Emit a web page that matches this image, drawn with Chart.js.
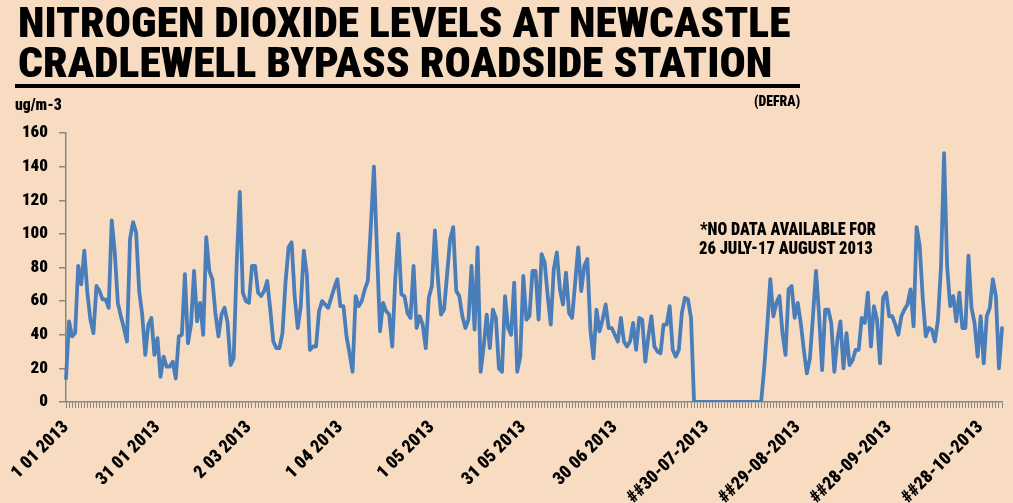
<!DOCTYPE html>
<html>
<head>
<meta charset="utf-8">
<script src="https://cdn.jsdelivr.net/npm/chart.js@4.4.1/dist/chart.umd.min.js"></script>
<style>
  html, body { margin: 0; padding: 0; }
  body {
    width: 1013px; height: 503px; position: relative; overflow: hidden;
    background: #f8dcc2;
    font-family: "Roboto Condensed", "DejaVu Sans Condensed", "Liberation Sans", sans-serif;
  }
  #chart { position: absolute; left: 0; top: 0; }
  .txt {
    position: absolute; white-space: nowrap; font-weight: 900; color: #000;
    line-height: 1; transform-origin: 0 0;
  }
  #rule { position: absolute; left: 15px; top: 84px; width: 785px; height: 4px; background: #000; }
</style>
</head>
<body>
<canvas id="chart" width="1013" height="503"></canvas>

<div class="txt" data-w="772" style="left:18px; top:2px; font-size:42px;">NITROGEN DIOXIDE LEVELS AT NEWCASTLE</div>
<div class="txt" data-w="754" style="left:18px; top:42px; font-size:42px;">CRADLEWELL BYPASS ROADSIDE STATION</div>
<div id="rule"></div>
<div class="txt" data-w="47" style="left:15px; top:97px; font-size:16px;">ug/m-3</div>
<div class="txt" data-w="46" style="left:754px; top:94px; font-size:15px;">(DEFRA)</div>
<div class="txt" data-w="176" style="left:700px; top:219px; font-size:19px;">*NO DATA AVAILABLE FOR</div>
<div class="txt" data-w="174" style="left:699px; top:238px; font-size:19px;">26 JULY-17 AUGUST 2013</div>

<script>
// daily NO2 readings, 1 Jan 2013 onwards (zeros = no data 26 Jul - 17 Aug)
const no2Values = [
  14, 48, 39, 41, 81, 70, 90, 65, 49, 41, 69, 66, 61, 61, 56, 108, 89, 59, 51, 44,
  36, 97, 107, 101, 66, 52, 28, 46, 50, 28, 38, 15, 27, 21, 21, 24, 14, 39, 40, 76,
  35, 46, 78, 48, 59, 40, 98, 78, 73, 53, 39, 52, 56, 47, 22, 26, 83, 125, 65, 60,
  59, 81, 81, 65, 63, 66, 72, 55, 36, 32, 32, 41, 71, 92, 95, 63, 44, 57, 90, 76,
  31, 33, 33, 54, 60, 58, 56, 62, 68, 73, 57, 57, 39, 29, 18, 63, 57, 60, 67, 72,
  105, 140, 90, 42, 59, 54, 52, 33, 73, 100, 64, 63, 53, 50, 81, 44, 51, 46, 32, 62,
  69, 102, 73, 52, 55, 76, 97, 104, 66, 63, 51, 44, 49, 81, 43, 92, 18, 33, 52, 32,
  55, 50, 20, 18, 63, 44, 40, 71, 18, 27, 75, 49, 51, 78, 78, 49, 88, 83, 63, 46,
  79, 89, 67, 58, 77, 53, 50, 71, 92, 66, 81, 85, 43, 26, 55, 42, 49, 58, 44, 44,
  40, 36, 50, 36, 33, 36, 47, 31, 50, 49, 24, 39, 51, 33, 30, 29, 46, 46, 57, 31,
  27, 31, 53, 62, 61, 50, 0, 0, 0, 0, 0, 0, 0, 0, 0, 0, 0, 0, 0, 0,
  0, 0, 0, 0, 0, 0, 0, 0, 0, 20, 45, 73, 51, 59, 63, 41, 28, 67, 69, 50,
  59, 47, 31, 17, 26, 51, 78, 52, 19, 55, 55, 47, 18, 37, 48, 20, 41, 22, 25, 31,
  31, 50, 47, 65, 33, 57, 49, 23, 62, 65, 51, 51, 46, 40, 51, 55, 58, 67, 45, 104,
  93, 62, 39, 44, 43, 36, 49, 81, 148, 81, 57, 63, 48, 65, 44, 44, 87, 56, 47, 27,
  51, 23, 51, 56, 73, 63, 20, 44
];

const tickLabels = [
  "1 01 2013", "31 01 2013", "2 03 2013", "1 04 2013", "1 05 2013", "31 05 2013",
  "30 06 2013", "##30-07-2013", "##29-08-2013", "##28-09-2013", "##28-10-2013"
];
const tickStep = 30;

const yTicks = { min: 0, max: 160, step: 20 };

const dayLabels = no2Values.map((_, i) => {
  const d = new Date(2013, 0, 1 + i);
  return `${d.getDate()}/${d.getMonth() + 1}/2013`;
});

const fontFamily = '"Roboto Condensed", "DejaVu Sans Condensed", "Liberation Sans", sans-serif';
const axisGrey = "#868686";

function fitTexts() {
  document.querySelectorAll(".txt[data-w]").forEach((el) => {
    el.style.transform = "";
    const w = el.offsetWidth;
    if (w) el.style.transform = `scaleX(${Number(el.dataset.w) / w})`;
  });
}

new Chart(document.querySelector("#chart"), {
  type: "line",
  data: {
    labels: dayLabels,
    datasets: [
      {
        data: no2Values,
        borderColor: "#4a7ebb",
        borderWidth: 3.8,
        borderJoinStyle: "round",
        borderCapStyle: "round",
        pointRadius: 0,
        tension: 0,
        fill: false,
      },
    ],
  },
  options: {
    responsive: false,
    animation: false,
    layout: { padding: { top: 133, right: 11, left: 0, bottom: 0 } },
    plugins: { legend: { display: false }, tooltip: { enabled: false } },
    scales: {
      x: {
        offset: false,
        grid: { drawOnChartArea: false, drawTicks: true, tickLength: 6, color: axisGrey, lineWidth: 1 },
        border: { display: true, color: axisGrey, width: 1.5 },
        ticks: {
          autoSkip: false,
          maxRotation: 45,
          minRotation: 45,
          padding: 9,
          color: "#000",
          font: { family: fontFamily, size: 18, weight: 900 },
          callback: (value, index) => (index % tickStep === 0 ? tickLabels[index / tickStep] || "" : ""),
        },
        afterFit: (scale) => {
          scale.height = 101;
          scale.paddingLeft = 0;
          scale.paddingRight = 0;
        },
      },
      y: {
        min: yTicks.min,
        max: yTicks.max,
        grid: { drawOnChartArea: false, drawTicks: true, tickLength: 7, color: axisGrey, lineWidth: 1.5 },
        border: { display: true, color: axisGrey, width: 1.5 },
        ticks: {
          stepSize: yTicks.step,
          padding: 11,
          color: "#000",
          font: { family: fontFamily, size: 17, weight: 900 },
        },
        afterFit: (scale) => { scale.width = 66; },
      },
    },
  },
});

fitTexts();
if (document.fonts && document.fonts.ready) document.fonts.ready.then(fitTexts);
</script>
</body>
</html>
